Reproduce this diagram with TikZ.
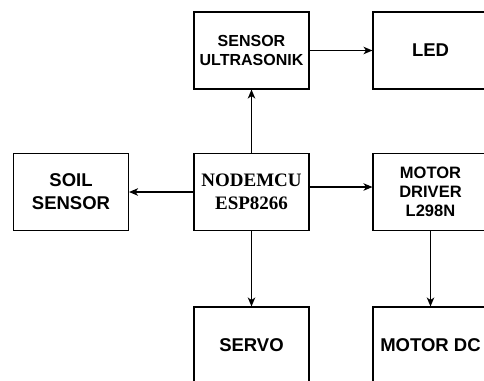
\documentclass[tikz,border=0pt]{standalone}
\usepackage{fontspec}
\setmainfont{Liberation Serif}
\setsansfont{Liberation Sans}
\usetikzlibrary{arrows.meta}
\begin{document}
\begin{tikzpicture}[x=1pt,y=-1pt,
  blk/.style={draw=black,line width=1.1pt,fill=white,minimum width=115pt,minimum height=77pt,inner sep=0pt,align=center,font=\sffamily\bfseries\fontsize{18.5}{23}\selectfont},
  blksmall/.style={blk,font=\sffamily\bfseries\fontsize{16}{19}\selectfont},
  blkdrv/.style={blk,font=\sffamily\bfseries\fontsize{16.5}{19}\selectfont},
  blkmcu/.style={blk,font=\rmfamily\bfseries\fontsize{19}{23}\selectfont},
  conn/.style={draw=black,line width=1.1pt,-{Stealth[length=9pt,width=7.5pt,inset=2.5pt]}}]
\useasboundingbox (0,0) rectangle (484,380);
\clip (0,0) rectangle (484,380);
\node[blksmall] (sensor) at (251.5,50.5) {SENSOR\\ULTRASONIK};
\node[blk] (led) at (430.5,50.5) {LED};
\node[blkmcu] (mcu) at (251.5,192) {NODEMCU\\ESP8266};
\node[blk] (soil) at (71,192) {SOIL\\SENSOR};
\node[blkdrv] (drv) at (430.5,192) {MOTOR\\DRIVER\\L298N};
\node[blk] (servo) at (251.5,345.5) {SERVO};
\node[blk] (motor) at (430.5,345.5) {MOTOR DC};
\draw[conn] (mcu.north) -- (sensor.south);
\draw[conn] (sensor.east) -- (led.west);
\draw[conn] (mcu.west) -- (soil.east);
\draw[conn] ([yshift=5pt]mcu.east) -- ([yshift=5pt]drv.west);
\draw[conn] (mcu.south) -- (servo.north);
\draw[conn] (drv.south) -- (motor.north);
\end{tikzpicture}
\end{document}
